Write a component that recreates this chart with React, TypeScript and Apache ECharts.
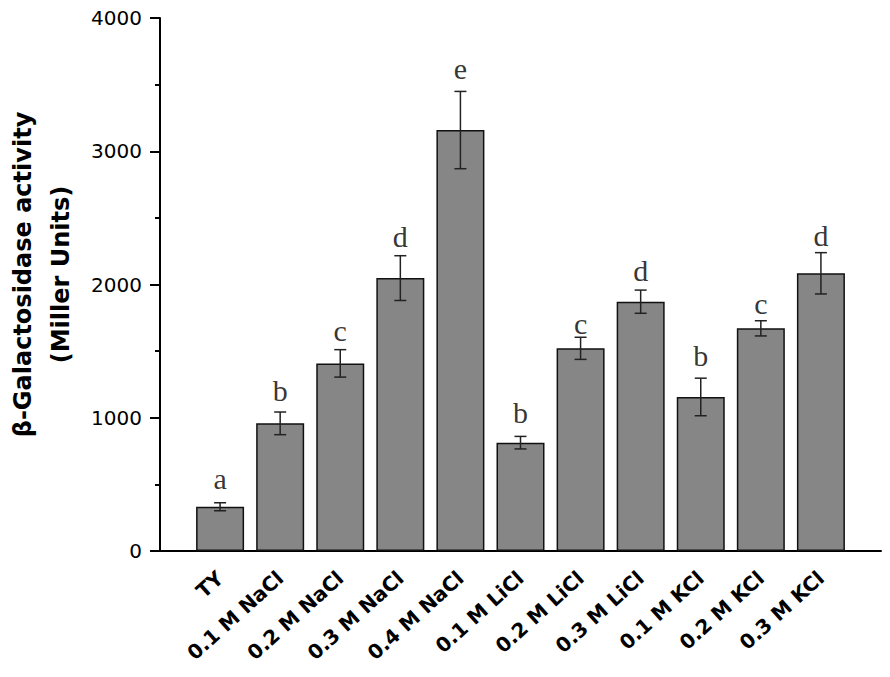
import React, { useEffect, useRef } from "react";
import * as echarts from "echarts";

const categories = [
  "TY",
  "0.1 M NaCl",
  "0.2 M NaCl",
  "0.3 M NaCl",
  "0.4 M NaCl",
  "0.1 M LiCl",
  "0.2 M LiCl",
  "0.3 M LiCl",
  "0.1 M KCl",
  "0.2 M KCl",
  "0.3 M KCl",
];
const values = [332, 958, 1408, 2048, 3159, 813, 1521, 1871, 1156, 1671, 2084];
const errors = [30, 85, 103, 168, 290, 47, 83, 87, 141, 57, 155];
const letters = ["a", "b", "c", "d", "e", "b", "c", "d", "b", "c", "d"];
const letterY = [473, 1133, 1583, 2289, 3547, 970, 1634, 2034, 1396, 1784, 2296];
const yTicks = { min: 0, max: 4000, interval: 1000 };

export default function App() {
  const ref = useRef<HTMLDivElement>(null);
  useEffect(() => {
    if (!ref.current) return;
    const chart = echarts.init(ref.current, null, { renderer: "svg" });
    // padded category list: empty slot at both ends
    const axisCats = ["", ...categories, ""];
    const barData: (number | null)[] = [null, ...values, null];
    const errData = values.map((v, i) => [i + 1, v - errors[i], v + errors[i]]);
    const letterData: any[] = [
      null,
      ...letterY.map((y, i) => ({ value: y, name: letters[i] })),
      null,
    ];
    chart.setOption({
      animation: false,
      backgroundColor: "#ffffff",
      grid: {
        left: 160,
        right: 9,
        top: 18,
        bottom: 126,
        containLabel: false,
        outerBoundsMode: "none",
      },
      xAxis: {
        type: "category",
        data: axisCats,
        boundaryGap: false,
        axisLine: { show: true, lineStyle: { color: "#000", width: 2 } },
        axisTick: { show: false },
        axisLabel: {
          interval: 0,
          rotate: 42,
          margin: 24,
          fontFamily: "DejaVu Sans",
          fontWeight: "bold",
          fontSize: 20,
          color: "#000",
        },
        splitLine: { show: false },
      },
      yAxis: {
        type: "value",
        min: yTicks.min,
        max: yTicks.max,
        interval: yTicks.interval,
        name: "β-Galactosidase activity\n(Miller Units)",
        nameLocation: "middle",
        nameGap: 75,
        nameTextStyle: {
          fontFamily: "DejaVu Sans",
          fontWeight: "bold",
          fontSize: 24,
          lineHeight: 38,
          color: "#000",
          padding: [0, 0, 0, 20],
        },
        axisLine: { show: true, lineStyle: { color: "#000", width: 2 } },
        axisTick: { show: true, length: 10, lineStyle: { color: "#000", width: 2 } },
        minorTick: { show: true, splitNumber: 2, length: 5, lineStyle: { color: "#000", width: 2 } },
        axisLabel: {
          margin: 18,
          fontFamily: "DejaVu Sans",
          fontSize: 20,
          color: "#000",
          formatter: (v: number) => String(v),
        },
        splitLine: { show: false },
        minorSplitLine: { show: false },
      },
      series: [
        {
          type: "bar",
          data: barData,
          barWidth: 48,
          itemStyle: { color: "#868686", borderColor: "#111", borderWidth: 1.5 },
          z: 2,
        },
        {
          type: "custom",
          data: errData,
          z: 3,
          renderItem: (params: any, api: any) => {
            const x = api.value(0);
            const lo = api.coord([x, api.value(1)]);
            const hi = api.coord([x, api.value(2)]);
            const cap = 6;
            const style = { stroke: "#222", lineWidth: 1.5 };
            return {
              type: "group",
              children: [
                { type: "line", shape: { x1: lo[0], y1: lo[1], x2: hi[0], y2: hi[1] }, style },
                { type: "line", shape: { x1: hi[0] - cap, y1: hi[1], x2: hi[0] + cap, y2: hi[1] }, style },
                { type: "line", shape: { x1: lo[0] - cap, y1: lo[1], x2: lo[0] + cap, y2: lo[1] }, style },
              ],
            };
          },
        },
        {
          type: "scatter",
          data: letterData,
          symbolSize: 1,
          itemStyle: { color: "rgba(0,0,0,0)" },
          z: 4,
          label: {
            show: true,
            position: "top",
            distance: 0,
            offset: [0, 6],
            formatter: (p: any) => p.name,
            fontFamily: "Liberation Serif",
            fontSize: 30,
            color: "#000",
          },
        },
      ],
    });
    return () => chart.dispose();
  }, []);
  return (
    <div
      ref={ref}
      style={{ position: "fixed", left: 0, top: 0, width: 890, height: 677, background: "#fff" }}
    />
  );
}
